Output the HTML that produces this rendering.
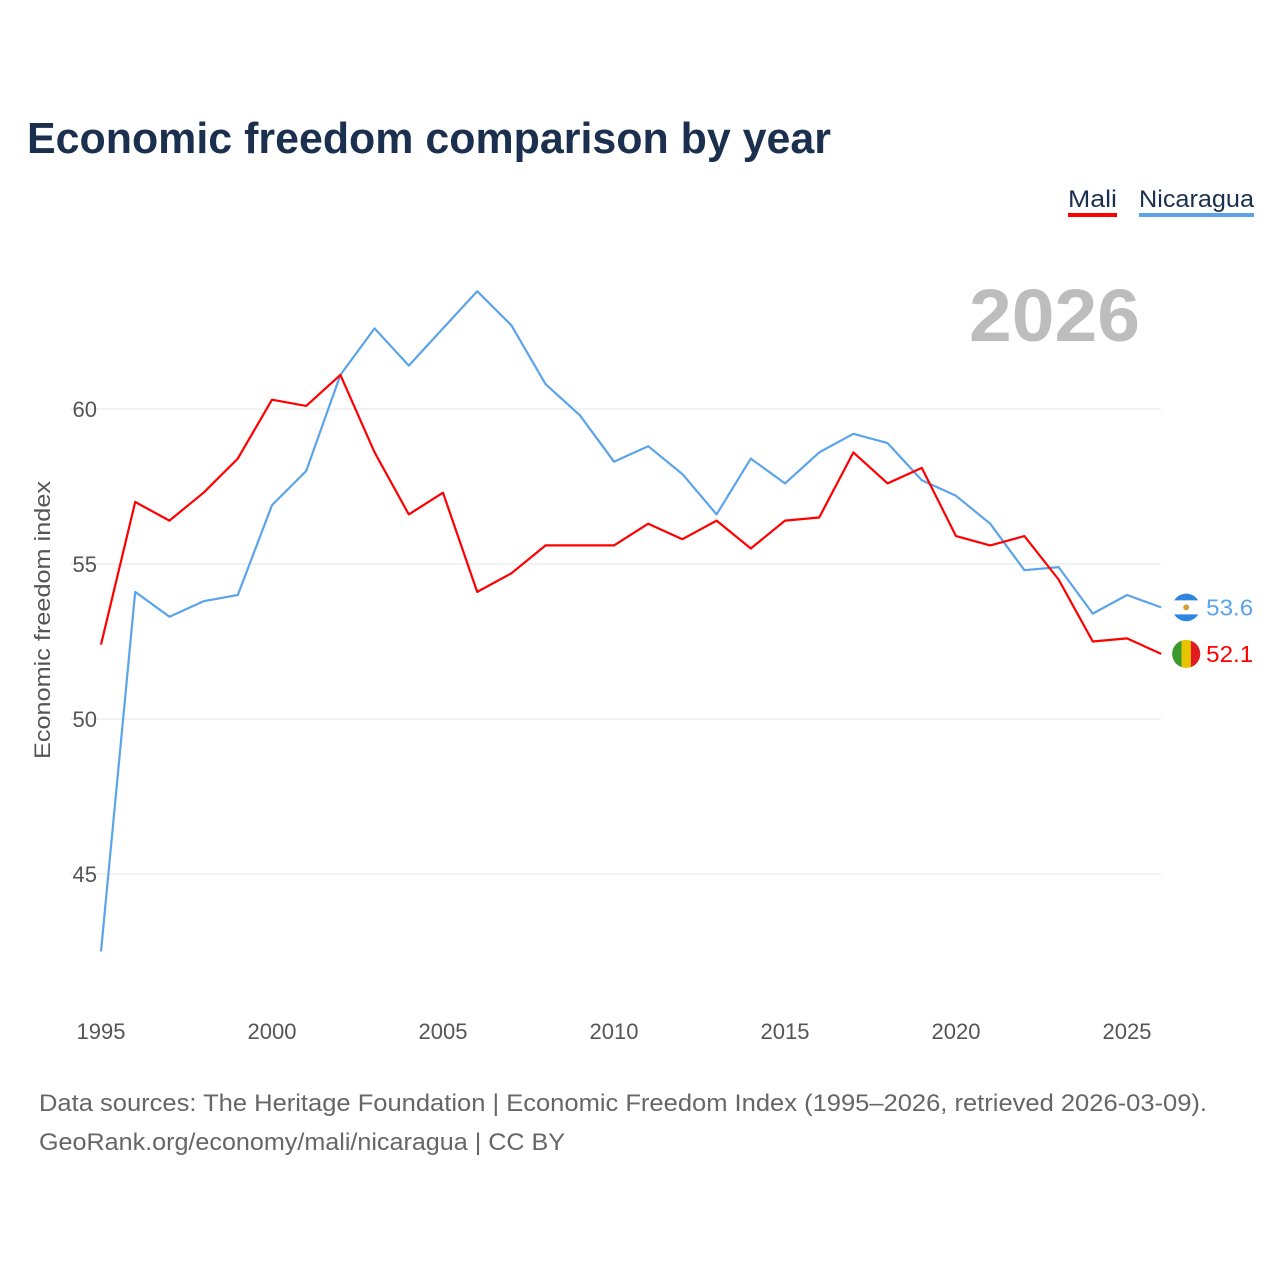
<!DOCTYPE html>
<html><head><meta charset="utf-8">
<style>
html,body{margin:0;padding:0;background:#fff;width:1280px;height:1280px;overflow:hidden;font-family:"Liberation Sans",sans-serif}
</style></head>
<body>
<svg id="chart" width="1280" height="1280" xmlns="http://www.w3.org/2000/svg">
<text x="27" y="153" font-size="44" font-weight="bold" fill="#1b2f4f" textLength="804" lengthAdjust="spacingAndGlyphs">Economic freedom comparison by year</text>
<g><text x="1068" y="207" font-size="24" fill="#1b2f4f" textLength="49" lengthAdjust="spacingAndGlyphs">Mali</text><rect x="1068" y="213" width="49" height="4" fill="#f00"/></g>
<g><text x="1139" y="207" font-size="24" fill="#1b2f4f" textLength="115" lengthAdjust="spacingAndGlyphs">Nicaragua</text><rect x="1139" y="213" width="115" height="4" fill="#5ba4ea"/></g>
<text x="1140" y="341" font-size="74" font-weight="bold" fill="#bdbdbd" text-anchor="end" textLength="171" lengthAdjust="spacingAndGlyphs">2026</text>
<text transform="translate(50,620) rotate(-90)" font-size="22" fill="#555" text-anchor="middle" textLength="278" lengthAdjust="spacingAndGlyphs">Economic freedom index</text>
<g id="grid"></g><g id="xt"></g><g id="series"></g>
<text x="39" y="1111" font-size="24" fill="#666" textLength="1168" lengthAdjust="spacingAndGlyphs">Data sources: The Heritage Foundation | Economic Freedom Index (1995–2026, retrieved 2026-03-09).</text>
<text x="39" y="1150" font-size="24" fill="#666" textLength="526" lengthAdjust="spacingAndGlyphs">GeoRank.org/economy/mali/nicaragua | CC BY</text>
</svg>
<script>
const years=[];for(let y=1995;y<=2026;y++)years.push(y);
const mali=[52.4,57.0,56.4,57.3,58.4,60.3,60.1,61.1,58.6,56.6,57.3,54.1,54.7,55.6,55.6,55.6,56.3,55.8,56.4,55.5,56.4,56.5,58.6,57.6,58.1,55.9,55.6,55.9,54.5,52.5,52.6,52.1];
const nicaragua=[42.5,54.1,53.3,53.8,54.0,56.9,58.0,61.1,62.6,61.4,62.6,63.8,62.7,60.8,59.8,58.3,58.8,57.9,56.6,58.4,57.6,58.6,59.2,58.9,57.7,57.2,56.3,54.8,54.9,53.4,54.0,53.6];
const yTicks=[45,50,55,60];
const xTicks=[1995,2000,2005,2010,2015,2020,2025];
const NS="http://www.w3.org/2000/svg";
const X=y=>101+(y-1995)*(1127-101)/30;
const Y=v=>409+(60-v)*31;
function mk(tag,attrs,parent){const e=document.createElementNS(NS,tag);for(const k in attrs)e.setAttribute(k,attrs[k]);parent.appendChild(e);return e;}
const grid=document.getElementById('grid');
yTicks.forEach(t=>{
 const l=mk('line',{x1:70,x2:1161,y1:Y(t),y2:Y(t),stroke:'#e6e6e6','stroke-width':1},grid);
 
 
 const tx=mk('text',{x:97,y:Y(t)+8,'font-size':22,fill:'#555','text-anchor':'end'},grid);tx.textContent=t;
 
 
});
const xt=document.getElementById('xt');
xTicks.forEach(t=>{
 const tx=mk('text',{x:X(t),y:1039,'font-size':22,fill:'#555','text-anchor':'middle'},xt);tx.textContent=t;
 
 
});
const sg=document.getElementById('series');
function series(vals,color,name){
 const p=mk('path',{d:vals.map((v,i)=>(i?'L':'M')+X(years[i]).toFixed(1)+' '+Y(v).toFixed(1)).join(' '),fill:'none',stroke:color,'stroke-width':2.2,'stroke-linejoin':'round'},sg);
 
 
 const last=vals[vals.length-1],cx=X(years[years.length-1])+25,cy=Y(last);
 const c=mk('circle',{cx:cx,cy:cy,r:14,fill:name==='mali'?'#e8c300':'#fff',stroke:'none'},sg);
 
 
 if(name==='mali'){
  mk('path',{d:`M${cx-4.7} ${cy-13.2} A14 14 0 0 0 ${cx-4.7} ${cy+13.2} Z`,fill:'#3a9a2f'},sg);
  mk('path',{d:`M${cx+4.7} ${cy-13.2} A14 14 0 0 1 ${cx+4.7} ${cy+13.2} Z`,fill:'#e21b23'},sg);
 } else {
  mk('path',{d:`M${cx-12} ${cy-7} A14 14 0 0 1 ${cx+12} ${cy-7} Z`,fill:'#2f86e0'},sg);
  mk('path',{d:`M${cx-12} ${cy+7} A14 14 0 0 0 ${cx+12} ${cy+7} Z`,fill:'#2f86e0'},sg);
  mk('circle',{cx:cx,cy:cy,r:3,fill:'#c9a53a'},sg);
 }
 const t=mk('text',{x:cx+20,y:cy+8,'font-size':23,fill:color,textLength:47,lengthAdjust:'spacingAndGlyphs'},sg);t.textContent=last.toFixed(1);
 
 
}
series(nicaragua,'#5ba4ea','nicaragua');
series(mali,'#f00','mali');
</script>
</body></html>
